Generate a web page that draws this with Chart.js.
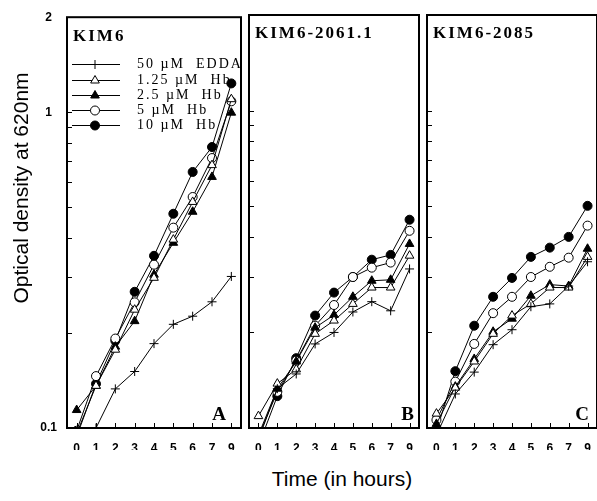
<!DOCTYPE html>
<html>
<head>
<meta charset="utf-8">
<script src="https://cdn.jsdelivr.net/npm/chart.js@4.4.1/dist/chart.umd.min.js"></script>
<style>
  html, body { margin: 0; padding: 0; background: #fff; overflow: hidden; }
  #wrap { position: relative; width: 597px; height: 501px; overflow: hidden; background: #fff; }
  #wrap canvas { position: absolute; top: 0; }
  .axis-title { position: absolute; font: 21px "Liberation Sans", Arial, sans-serif; color: #000; white-space: nowrap; text-align: center; }
  #ytitle { width: 280px; height: 24px; line-height: 24px; left: -119px; top: 176px; transform: rotate(-90deg); }
  #xtitle { width: 200px; left: 242px; top: 467px; }
</style>
</head>
<body>
<div id="wrap">
  <canvas id="panelA" width="247" height="450" style="left:0px"></canvas>
  <canvas id="panelB" width="182" height="450" style="left:243px"></canvas>
  <canvas id="panelC" width="182" height="450" style="left:421px"></canvas>
  <div id="ytitle" class="axis-title">Optical density at 620nm</div>
  <div id="xtitle" class="axis-title">Time (in hours)</div>
</div>
<script>
// --- data (optical density, log scale) ---
const hours = ['0', '1', '2', '3', '4', '5', '6', '7', '9'];
const seriesNames = ['50 \u00b5M  EDDA', '1.25 \u00b5M  Hb', '2.5 \u00b5M  Hb', '5 \u00b5M  Hb', '10 \u00b5M  Hb'];

// panel A: KIM6
const kim6Edda  = [0.085, 0.100, 0.133, 0.151, 0.185, 0.213, 0.226, 0.251, 0.302];
const kim6Hb125 = [0.096, 0.136, 0.177, 0.237, 0.299, 0.395, 0.520, 0.680, 1.100];
const kim6Hb25  = [0.114, 0.136, 0.181, 0.218, 0.306, 0.386, 0.484, 0.624, 0.997];
const kim6Hb5   = [0.098, 0.146, 0.192, 0.250, 0.329, 0.431, 0.539, 0.716, 1.083];
const kim6Hb10  = [0.094, 0.138, 0.189, 0.270, 0.351, 0.477, 0.647, 0.776, 1.234];

// panel B: KIM6-2061.1
const k2061Edda  = [0.092, 0.133, 0.148, 0.184, 0.200, 0.232, 0.250, 0.234, 0.317];
const k2061Hb125 = [0.109, 0.138, 0.153, 0.198, 0.218, 0.246, 0.277, 0.277, 0.349];
const k2061Hb25  = [0.095, 0.133, 0.162, 0.207, 0.227, 0.259, 0.291, 0.293, 0.380];
const k2061Hb5   = [0.094, 0.130, 0.163, 0.210, 0.244, 0.299, 0.320, 0.332, 0.418];
const k2061Hb10  = [0.088, 0.126, 0.166, 0.226, 0.267, 0.299, 0.339, 0.351, 0.453];

// panel C: KIM6-2085
const k2085Edda  = [0.095, 0.128, 0.150, 0.183, 0.204, 0.241, 0.246, 0.280, 0.334];
const k2085Hb125 = [0.111, 0.134, 0.162, 0.198, 0.226, 0.246, 0.277, 0.277, 0.346];
const k2085Hb25  = [0.103, 0.135, 0.165, 0.201, 0.221, 0.261, 0.283, 0.280, 0.367];
const k2085Hb5   = [0.106, 0.140, 0.184, 0.230, 0.259, 0.299, 0.322, 0.344, 0.434];
const k2085Hb10  = [0.098, 0.151, 0.210, 0.259, 0.297, 0.346, 0.370, 0.400, 0.501];

const yMin = 0.1;
const yMax = 2;
const yLabelValues = [0.1, 1, 2];
const yMinorTicks = [0.2, 0.3, 0.4, 0.5, 0.6, 0.7, 0.8, 0.9, 1];

Chart.defaults.font.family = '"Liberation Sans", Arial, sans-serif';
Chart.defaults.color = '#000';

// marker look for each series (same order as seriesNames)
const marks = [
  { style: 'cross',    fill: '#000', r: 4.5 },
  { style: 'triangle', fill: '#fff', r: 5 },
  { style: 'triangle', fill: '#000', r: 5 },
  { style: 'circle',   fill: '#fff', r: 4.5 },
  { style: 'circle',   fill: '#000', r: 4.5 }
];

function makeDatasets(seriesList) {
  return seriesList.map((values, i) => ({
    label: seriesNames[i],
    data: values,
    borderColor: '#000',
    borderWidth: 1,
    pointStyle: marks[i].style,
    pointRadius: marks[i].r,
    pointBorderWidth: 1,
    pointBorderColor: '#000',
    pointBackgroundColor: marks[i].fill,
    tension: 0,
    clip: { left: 6, top: 6, right: 6, bottom: 0 }
  }));
}

// --- frame, inward ticks, panel labels and legend ---
const panelPlugin = {
  id: 'panel',
  afterDatasetsDraw(chart, args, opts) {
    const ctx = chart.ctx;
    const a = chart.chartArea;
    const xs = chart.scales.x, ys = chart.scales.y;
    ctx.save();
    ctx.strokeStyle = '#000';
    ctx.fillStyle = '#000';

    ctx.lineWidth = 1;
    ctx.beginPath();
    yMinorTicks.forEach(v => {
      const py = Math.round(ys.getPixelForValue(v)) + 0.5;
      ctx.moveTo(a.left, py);
      ctx.lineTo(a.left + 5, py);
    });
    hours.forEach((h, i) => {
      const px = Math.round(xs.getPixelForValue(i)) + 0.5;
      ctx.moveTo(px, a.bottom);
      ctx.lineTo(px, a.bottom - 5);
    });
    ctx.stroke();

    ctx.lineWidth = 2;
    ctx.strokeRect(a.left, a.top, a.right - a.left, a.bottom - a.top);

    ctx.textBaseline = 'middle';
    ctx.textAlign = 'left';
    ctx.font = 'bold 17px "Liberation Serif", "Times New Roman", serif';
    ctx.letterSpacing = '2px';
    ctx.fillText(opts.title, a.left + 6, a.top + 19);

    ctx.letterSpacing = '0px';
    ctx.textAlign = 'right';
    ctx.font = 'bold 19px "Liberation Serif", "Times New Roman", serif';
    ctx.fillText(opts.letter, a.right - opts.letterInset, a.bottom - 13);

    if (opts.legend) {
      ctx.font = '14px "Liberation Serif", "Times New Roman", serif';
      ctx.letterSpacing = '2px';
      ctx.textAlign = 'left';
      chart.data.datasets.forEach((ds, i) => {
        const ly = Math.round(a.top + 47 + i * 15.3) + 0.5;
        ctx.lineWidth = 1;
        ctx.strokeStyle = '#000';
        ctx.beginPath();
        ctx.moveTo(a.left + 5, ly);
        ctx.lineTo(a.left + 53, ly);
        ctx.stroke();
        ctx.fillStyle = ds.pointBackgroundColor;
        Chart.helpers.drawPoint(ctx, { pointStyle: ds.pointStyle, radius: ds.pointRadius, borderWidth: 1 }, a.left + 28, ly);
        ctx.fillStyle = '#000';
        ctx.fillText(ds.label, a.left + 70, ly);
      });
    }
    ctx.restore();
  }
};

function makePanel(id, seriesList, opts) {
  new Chart(document.getElementById(id), {
    type: 'line',
    data: { labels: hours, datasets: makeDatasets(seriesList) },
    options: {
      responsive: false,
      animation: false,
      devicePixelRatio: 1,
      layout: { padding: { top: 15, right: 2, left: opts.showY ? 0 : 2, bottom: 0 } },
      plugins: {
        legend: { display: false },
        tooltip: { enabled: false },
        panel: opts
      },
      scales: {
        x: {
          type: 'category',
          offset: true,
          grid: { display: false },
          border: { display: false },
          ticks: { autoSkip: false, maxRotation: 0, padding: 5, font: { size: 12, weight: 'bold' } },
          afterFit(scale) { scale.height = 22; }
        },
        y: {
          type: 'logarithmic',
          min: yMin,
          max: yMax,
          display: opts.showY,
          grid: { display: false, drawTicks: false },
          border: { display: false },
          ticks: {
            autoSkip: false,
            crossAlign: 'center',
            padding: 10,
            font: { size: 12, weight: 'bold' },
            callback: v => yLabelValues.some(l => Math.abs(l - v) < 1e-9) ? String(v) : ''
          },
          afterFit(scale) { scale.width = opts.showY ? 67 : 0; }
        }
      }
    },
    plugins: [panelPlugin]
  });
}

makePanel('panelA', [kim6Edda, kim6Hb125, kim6Hb25, kim6Hb5, kim6Hb10],
  { title: 'KIM6', letter: 'A', letterInset: 15, legend: true, showY: true });
makePanel('panelB', [k2061Edda, k2061Hb125, k2061Hb25, k2061Hb5, k2061Hb10],
  { title: 'KIM6-2061.1', letter: 'B', letterInset: 5, legend: false, showY: false });
makePanel('panelC', [k2085Edda, k2085Hb125, k2085Hb25, k2085Hb5, k2085Hb10],
  { title: 'KIM6-2085', letter: 'C', letterInset: 8, legend: false, showY: false });
</script>
</body>
</html>
